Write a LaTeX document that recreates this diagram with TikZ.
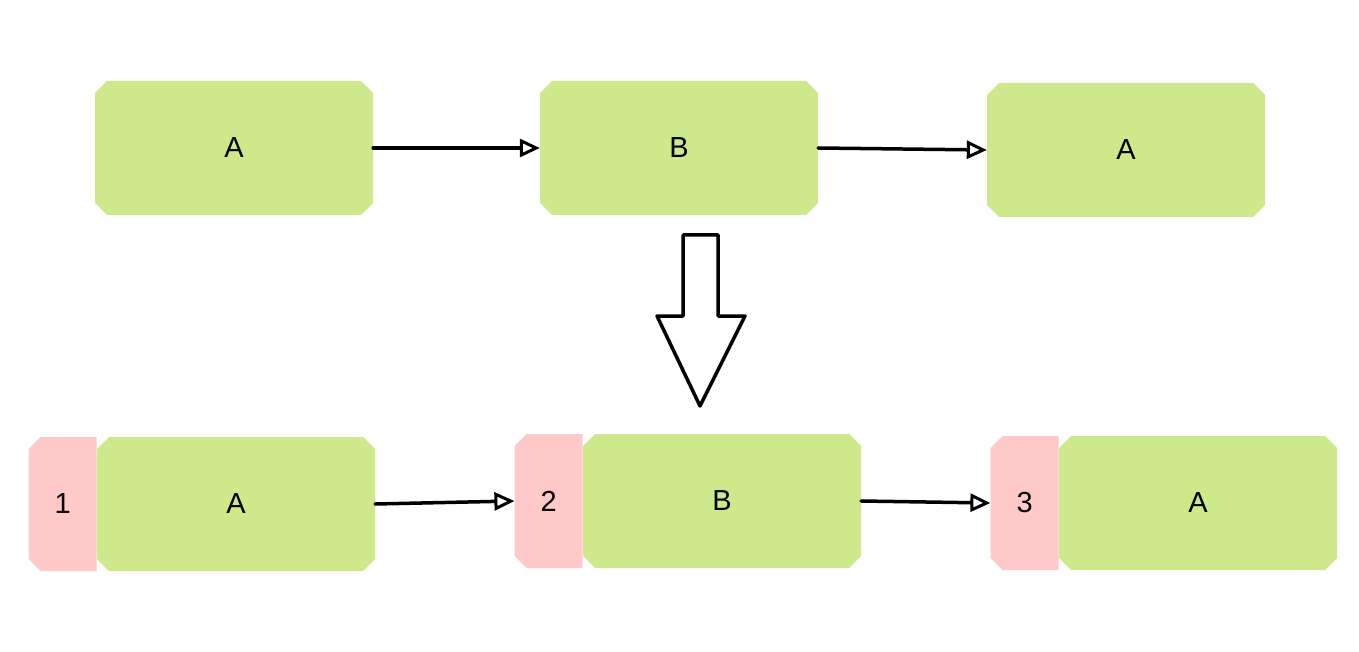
\documentclass[tikz,border=0pt]{standalone}
\usepackage{fontspec}
\setmainfont{Liberation Sans}
\usepackage{xcolor}
\usetikzlibrary{shapes.misc,arrows.meta,positioning}
\definecolor{boxgreen}{HTML}{CDE98C}
\definecolor{tabpink}{HTML}{FFC9C9}
\tikzstyle{block} = [chamfered rectangle, chamfered rectangle xsep=6pt, chamfered rectangle ysep=6pt, fill=boxgreen, minimum width=278pt, minimum height=134pt, inner sep=0pt, font=\fontsize{29}{32}\selectfont]
\tikzstyle{tab} = [block, fill=tabpink, minimum width=68pt, chamfered rectangle corners={north west,south west}]
\tikzstyle{arrow} = [line width=3.5pt, line cap=round, -{Triangle[open,length=20pt,width=18pt,line width=3pt]}]

\begin{document}
\begin{tikzpicture}[x=1pt, y=-1pt]
    \useasboundingbox (0,0) rectangle (1359,652);

    % Top row
    \node[block] (a1) at (234,148) {A};
    \node[block] (b1) at (679,148) {B};
    \node[block] (a2) at (1126,150) {A};

    \draw[arrow] (a1.east) -- (b1.west);
    \draw[arrow] (b1.east) -- (a2.west);

    % Big arrow down
    \draw[line width=3.5pt, line join=round]
        (683,235) -- (718,235) -- (718,316) -- (745,316) -- (700,406)
        -- (657,316) -- (683,316) -- cycle;

    % Bottom row
    \node[block] (a3) at (236,504) {A};
    \node[tab] (t1) [left=0pt of a3] {1};
    \node[block] (b2) at (722,501) {B};
    \node[tab] (t2) [left=0pt of b2] {2};
    \node[block] (a4) at (1198,503) {A};
    \node[tab] (t3) [left=0pt of a4] {3};

    \draw[arrow] (a3.east) -- (t2.west);
    \draw[arrow] (b2.east) -- (t3.west);
\end{tikzpicture}
\end{document}
